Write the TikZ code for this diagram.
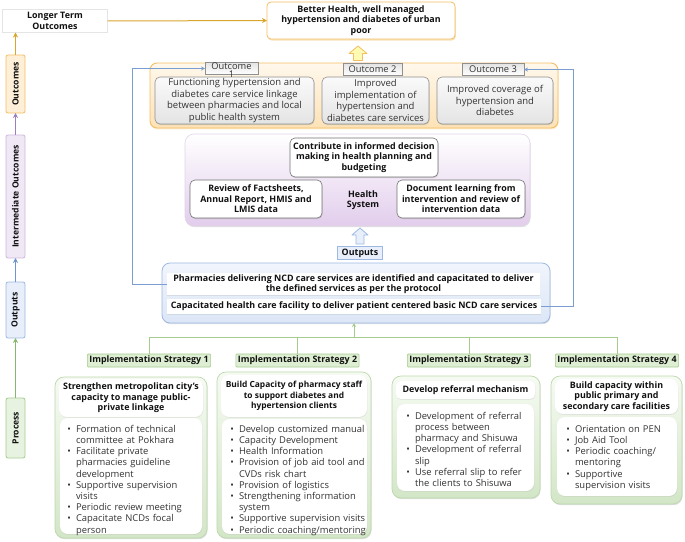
\documentclass[tikz,border=0pt]{standalone}
\usepackage{fontspec}
\setmainfont{Open Sans}
\usepackage{enumitem}
\usetikzlibrary{shadows,arrows.meta}
\definecolor{orLine}{HTML}{F3BE63}
\definecolor{orTop}{HTML}{FFF8EC}
\definecolor{orBot}{HTML}{FDE2B6}
\definecolor{orFill}{HTML}{FEF0D8}
\definecolor{puLine}{HTML}{CDB7DA}
\definecolor{puBot}{HTML}{E2CDEC}
\definecolor{puFill}{HTML}{F1E8F6}
\definecolor{blLine}{HTML}{9DB9E2}
\definecolor{blTop}{HTML}{F1F5FC}
\definecolor{blBot}{HTML}{DCE6F6}
\definecolor{blFill}{HTML}{E8EFFA}
\definecolor{grLine}{HTML}{BCD8AC}
\definecolor{grTop}{HTML}{F6FAF3}
\definecolor{grBot}{HTML}{D3E6C7}
\definecolor{grLbl}{HTML}{DDEED3}
\definecolor{grLblLine}{HTML}{A5CC8F}
\definecolor{gyLine}{HTML}{8F8F8F}
\definecolor{gyTop}{HTML}{FAFAFA}
\definecolor{gyBot}{HTML}{E4E4E4}
\definecolor{goldArr}{HTML}{D9A52E}
\definecolor{purArr}{HTML}{9C80BD}
\definecolor{bluArr}{HTML}{6F95CC}
\definecolor{grnArr}{HTML}{86B96F}
\definecolor{conn}{HTML}{7B9ED2}
\definecolor{grConn}{HTML}{A6CB91}
\definecolor{txtc}{HTML}{111111}
\definecolor{rtxt}{HTML}{333333}
\newcommand{\blist}[1]{\begin{itemize}[leftmargin=13pt,labelsep=5pt,itemsep=0pt,topsep=0pt,parsep=0pt,partopsep=0pt,label=\textbullet]#1\end{itemize}}
\begin{document}
\begin{tikzpicture}[x=1pt,y=-1pt,
  every node/.style={inner sep=0pt, outer sep=0pt, text=txtc},
  bt/.style={font=\bfseries\fontsize{8.9}{10.6}\selectfont, align=center},
  rt/.style={font=\fontsize{9.5}{11.6}\selectfont, align=center, text=rtxt},
  axbox/.style={draw, rounded corners=2pt, line width=0.8pt, rotate=90, minimum height=19, font=\bfseries\fontsize{8.6}{10}\selectfont},
  ax/.style={-{Stealth[length=5pt,width=5pt]}, line width=1.1pt},
  shd/.style={drop shadow={opacity=0.25, shadow xshift=0.6pt, shadow yshift=-1.2pt}},
  graybox/.style={draw=gyLine, line width=0.6pt, rounded corners=5pt, top color=gyTop, bottom color=gyBot, shd},
  lbl/.style={draw=gyLine, line width=0.5pt, top color=gyBot, bottom color=white},
  whitebox/.style={draw=black!55, line width=0.6pt, rounded corners=5pt, fill=white, shd},
  grbox/.style={draw=grLine, line width=0.7pt, rounded corners=9pt, top color=grTop, bottom color=grBot, shd},
  grwhite/.style={fill=white, rounded corners=8pt, drop shadow={opacity=0.15, shadow xshift=0.4pt, shadow yshift=-0.8pt}},
  islbl/.style={draw=grLblLine, line width=0.6pt, fill=grLbl, rounded corners=1pt, minimum height=13, inner xsep=2pt, bt},
  bl/.style={anchor=north west, text width=170, font=\fontsize{9.4}{11.2}\selectfont, text=rtxt},
  cn/.style={conn, line width=0.8pt},
  gc/.style={grConn, line width=0.9pt}
]
\useasboundingbox (0,0) rectangle (685,541);

% ---------- left axis ----------
\node[draw=black!10, fill=white, minimum width=105, minimum height=23, bt, drop shadow={opacity=0.12,shadow xshift=0.5pt, shadow yshift=-0.8pt}] (lto) at (55,21) {Longer Term\\Outcomes};
\node[axbox, draw=orLine, fill=orFill, minimum width=58] (aout) at (15.5,84) {Outcomes};
\node[axbox, draw=puLine, fill=puFill, minimum width=123] (aint) at (15.5,196.5) {Intermediate Outcomes};
\node[axbox, draw=blLine, fill=blFill, minimum width=56] (aop) at (15.5,310) {Outputs};
\node[axbox, draw=grLblLine, fill=grLbl!70, minimum width=60] (apr) at (15.5,428) {Process};
\draw[ax, goldArr] (aout.east) -- (aout.east |- lto.south);
\draw[ax, purArr] (aint.east) -- (aout.west);
\draw[ax, bluArr] (aop.east) -- (aint.west);
\draw[ax, grnArr] (apr.east) -- (aop.west);

% ---------- top ----------
\node[draw=orLine, line width=0.8pt, fill=white, rounded corners=4pt, minimum width=188, minimum height=37, bt,
  drop shadow={opacity=0.45, fill=orLine, shadow xshift=0.8pt, shadow yshift=-1.6pt}] (bh) at (361,20.5)
  {Better Health, well managed\\hypertension and diabetes of urban\\poor};
\draw[ax, goldArr, line width=1pt] (lto.east) -- (bh.west);
\draw[fill=yellow!30, draw=orLine, line width=0.8pt, line join=round]
  (358,46) -- (367,53.5) -- (362.5,53.5) -- (362.5,60.5) -- (353.5,60.5) -- (353.5,53.5) -- (349,53.5) -- cycle;

% ---------- outcomes ----------
\node[draw=orLine, line width=0.9pt, rounded corners=7pt, top color=orTop, bottom color=orBot, minimum width=408, minimum height=65,
  drop shadow={opacity=0.3, fill=orLine, shadow xshift=0.6pt, shadow yshift=-1.4pt}] (ocont) at (354,95.5) {};
\node[graybox, minimum width=159, minimum height=47, rt] (o1) at (234.5,100.5)
  {Functioning hypertension and\\diabetes care service linkage\\between pharmacies and local\\public health system};
\node[graybox, minimum width=107, minimum height=47, rt] (o2) at (375.5,100.5)
  {Improved\\implementation of\\hypertension and\\diabetes care services};
\node[graybox, minimum width=116, minimum height=47, rt] (o3) at (495,100.5)
  {Improved coverage of\\hypertension and\\diabetes};
\node[lbl, minimum width=53, minimum height=12] (l1) at (231.5,68.5) {};
\node[anchor=north, font=\fontsize{9.3}{8.3}\selectfont, align=center, text=rtxt] (l1t) at (231.5,62.6) {Outcome\\1};
\node[lbl, minimum width=59, minimum height=12, font=\fontsize{9.3}{10}\selectfont, text=rtxt] (l2) at (372.5,69.5) {Outcome 2};
\node[lbl, minimum width=62, minimum height=12, font=\fontsize{9.3}{10}\selectfont, text=rtxt] (l3) at (493,69.5) {Outcome 3};

% ---------- health system ----------
\node[draw=puLine!60, line width=0.6pt, rounded corners=9pt, top color=white, bottom color=puBot, minimum width=345, minimum height=92, shd] (hs) at (357.5,180) {};
\node[whitebox, minimum width=148, minimum height=39, bt] (hs1) at (364,157.5)
  {Contribute in informed decision\\making in health planning and\\budgeting};
\node[whitebox, minimum width=132, minimum height=38, bt] (hs2) at (256,199)
  {Review of Factsheets,\\Annual Report, HMIS and\\LMIS data};
\node[whitebox, minimum width=128, minimum height=38, bt] (hs3) at (461,199)
  {Document learning from\\intervention and review of\\intervention data};
\node[bt] (hst) at (363,200) {Health\\System};

% ---------- outputs ----------
\draw[fill=blFill, draw=blLine, line width=0.8pt, line join=round]
  (360,228) -- (368,235) -- (364,235) -- (364,244) -- (356,244) -- (356,235) -- (352,235) -- cycle;
\node[draw=blLine, line width=0.6pt, fill=blFill, minimum width=45, minimum height=13, bt] (opl) at (360,253) {Outputs};
\node[draw=blLine, line width=0.8pt, rounded corners=8pt, top color=blTop, bottom color=blBot, minimum width=388, minimum height=60, shd] (oc) at (356,293) {};
\node[fill=white, minimum width=373, minimum height=22, bt, drop shadow={opacity=0.15, shadow xshift=0.4pt, shadow yshift=-0.8pt}] (p1) at (353.5,284)
  {Pharmacies delivering NCD care services are identified and capacitated to deliver\\the defined services as per the protocol};
\node[fill=white, minimum width=374, minimum height=15, bt, drop shadow={opacity=0.15, shadow xshift=0.4pt, shadow yshift=-0.8pt}] (p2) at (354,306.5)
  {Capacitated health care facility to deliver patient centered basic NCD care services};

\coordinate (cL) at (132,0);
\coordinate (cR) at (573,0);
\draw[cn, -{Stealth[length=4pt,width=4pt]}] (p1.west) -- (p1.west -| cL) |- (l1.west);
\draw[cn, -{Stealth[length=4pt,width=4pt]}] (p2.east) -- (p2.east -| cR) |- (l3.east);

% ---------- strategies ----------
\node[islbl] (is1) at (149,360.5) {Implementation Strategy 1};
\node[islbl] (is2) at (297.5,360.5) {Implementation Strategy 2};
\node[islbl] (is3) at (469,360.5) {Implementation Strategy 3};
\node[islbl] (is4) at (617,360.5) {Implementation Strategy 4};

\coordinate (tj) at (354,337);
\draw[gc, -{Stealth[length=4pt,width=4pt]}] (tj) -- (oc.south -| tj);
\draw[gc] (is1.north) -- (is1.north |- tj) -- (is4.north |- tj) -- (is4.north);
\draw[gc] (is2.north) -- (is2.north |- tj);
\draw[gc] (is3.north) -- (is3.north |- tj);

% S1
\node[grbox, minimum width=152, minimum height=161] (s1) at (131,457.5) {};
\node[grwhite, minimum width=144, minimum height=38, bt] (s1t) at (131,398)
  {Strengthen metropolitan city's\\capacity to manage public-\\private linkage};
\node[grwhite, minimum width=142, minimum height=116] (s1b) at (131,476) {};
\node[bl] (s1l) at (63,421) {\blist{
  \item Formation of technical\\committee at Pokhara
  \item Facilitate private\\pharmacies guideline\\development
  \item Supportive supervision\\visits
  \item Periodic review meeting
  \item Capacitate NCDs focal\\person}};

% S2
\node[grbox, minimum width=154, minimum height=166] (s2) at (294,455) {};
\node[grwhite, minimum width=146, minimum height=42, bt, font=\bfseries\fontsize{8.4}{10.6}\selectfont] (s2t) at (294,396)
  {Build Capacity of pharmacy staff\\to support diabetes and\\hypertension clients};
\node[grwhite, minimum width=145, minimum height=115] (s2b) at (294.5,476.5) {};
\node[bl] (s2l) at (226,421) {\blist{
  \item Develop customized manual
  \item Capacity Development
  \item Health Information
  \item Provision of job aid tool and\\CVDs risk chart
  \item Provision of logistics
  \item Strengthening information\\system
  \item Supportive supervision visits
  \item Periodic coaching/mentoring}};

% S3
\node[grbox, minimum width=148, minimum height=122] (s3) at (466,437) {};
\node[grwhite, minimum width=139, minimum height=18, bt, rounded corners=5pt] (s3t) at (465.5,390) {Develop referral mechanism};
\node[grwhite, minimum width=137, minimum height=87] (s3b) at (465.5,447.5) {};
\node[bl] (s3l) at (402,408) {\blist{
  \item Development of referral\\process between\\pharmacy and Shisuwa
  \item Development of referral\\slip
  \item Use referral slip to refer\\the clients to Shisuwa}};

% S4
\node[grbox, minimum width=131, minimum height=128] (s4) at (616.5,440) {};
\node[grwhite, minimum width=123, minimum height=35, bt] (s4t) at (616.5,396.5)
  {Build capacity within\\public primary and\\secondary care facilities};
\node[grwhite, minimum width=120, minimum height=79] (s4b) at (617,456.5) {};
\node[bl] (s4l) at (562,421) {\blist{
  \item Orientation on PEN
  \item Job Aid Tool
  \item Periodic coaching/\\mentoring
  \item Supportive\\supervision visits}};
\end{tikzpicture}
\end{document}
